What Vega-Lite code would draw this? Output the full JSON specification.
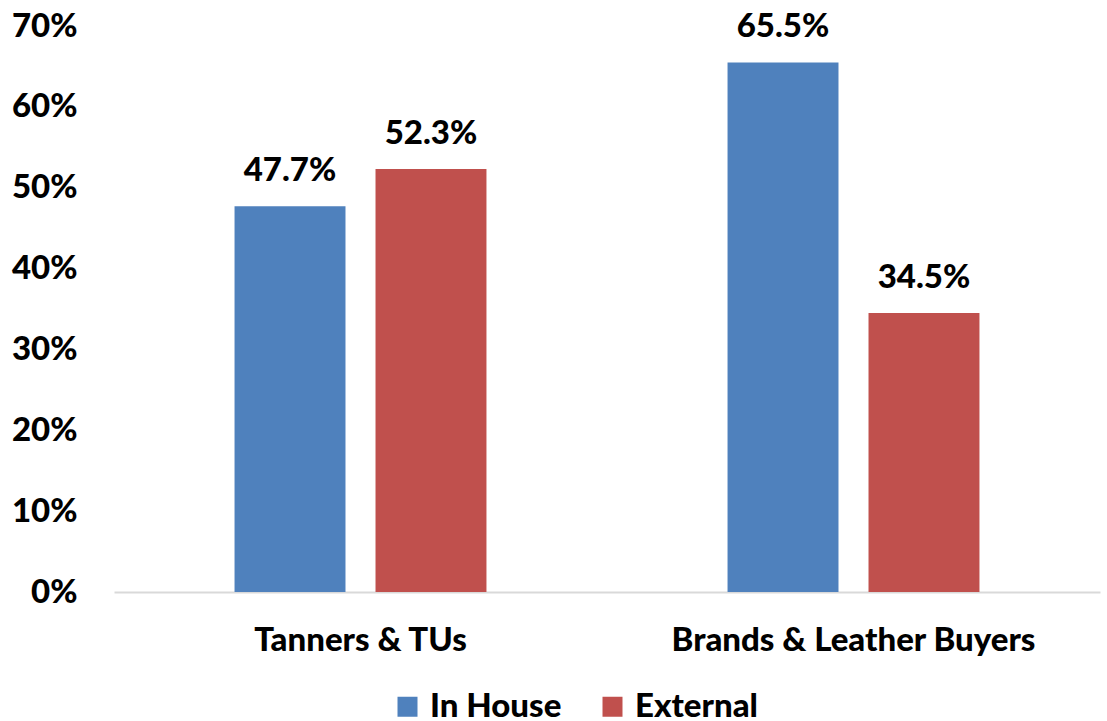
{
  "$schema": "https://vega.github.io/schema/vega-lite/v6.json",
  "width": 986,
  "height": 566,
  "autosize": {"type": "none"},
  "padding": {"left": 114, "top": 26, "right": 7, "bottom": 129},
  "background": "white",
  "config": {
    "view": {"stroke": null},
    "font": "Lato",
    "text": {"font": "Lato"}
  },
  "data": {
    "values": [
      {"group": "Tanners & TUs", "type": "In House", "value": 0.477},
      {"group": "Tanners & TUs", "type": "External", "value": 0.523},
      {"group": "Brands & Leather Buyers", "type": "In House", "value": 0.655},
      {"group": "Brands & Leather Buyers", "type": "External", "value": 0.345}
    ]
  },
  "encoding": {
    "x": {
      "field": "group",
      "type": "nominal",
      "sort": ["Tanners & TUs", "Brands & Leather Buyers"],
      "scale": {"paddingInner": 0, "paddingOuter": 0},
      "axis": {
        "title": null,
        "labelAngle": 0,
        "labelFont": "Lato",
        "labelFontSize": 33,
        "labelFontWeight": 900,
        "labelColor": "#000000",
        "labelPadding": 32,
        "labelLimit": 600,
        "ticks": false,
        "domainColor": "#d9d9d9",
        "domainWidth": 2,
        "grid": false
      }
    },
    "xOffset": {
      "field": "type",
      "type": "nominal",
      "sort": ["In House", "External"],
      "scale": {"paddingInner": 0.213, "paddingOuter": 0.855}
    },
    "y": {
      "field": "value",
      "type": "quantitative",
      "scale": {"domain": [0, 0.7], "nice": false},
      "axis": {
        "title": null,
        "format": ".0%",
        "values": [0, 0.1, 0.2, 0.3, 0.4, 0.5, 0.6, 0.7],
        "labelFont": "Lato",
        "labelFontSize": 33,
        "labelFontWeight": 900,
        "labelColor": "#000000",
        "labelPadding": 37,
        "ticks": false,
        "domain": false,
        "grid": false
      }
    }
  },
  "layer": [
    {
      "mark": {"type": "bar"},
      "encoding": {
        "color": {
          "field": "type",
          "type": "nominal",
          "sort": ["In House", "External"],
          "scale": {"domain": ["In House", "External"], "range": ["#4F81BD", "#C0504D"]},
          "legend": {
            "title": null,
            "orient": "none",
            "legendX": 277,
            "legendY": 664,
            "direction": "horizontal",
            "symbolType": "square",
            "symbolSize": 400,
            "symbolStrokeWidth": 0,
            "labelFont": "Lato",
            "labelFontSize": 33,
            "labelFontWeight": 900,
            "labelColor": "#000000",
            "labelOffset": 6,
            "columnPadding": 34,
            "labelLimit": 400
          }
        }
      }
    },
    {
      "mark": {"type": "text", "baseline": "bottom", "dy": -18, "font": "Lato", "fontSize": 33, "fontWeight": 900, "color": "#000000"},
      "encoding": {
        "text": {"field": "value", "type": "quantitative", "format": ".1%"}
      }
    }
  ]
}
